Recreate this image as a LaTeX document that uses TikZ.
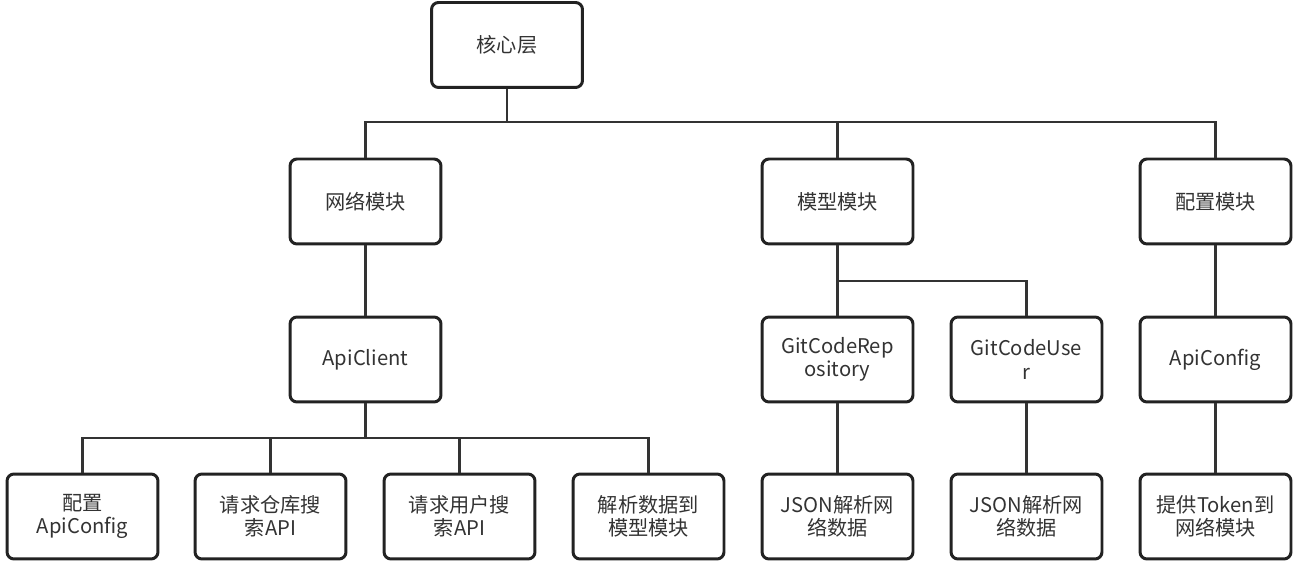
\documentclass[tikz,border=0pt]{standalone}
\usepackage{fontspec}
\setmainfont{Noto Sans CJK SC}
\usepackage{tikz}
\usetikzlibrary{positioning, calc}
\definecolor{boxline}{RGB}{34, 34, 34}
\definecolor{wire}{RGB}{51, 51, 51}

\begin{document}
\begin{tikzpicture}[x=0.02cm, y=-0.02cm,
  box/.style={draw=boxline, line width=1.7pt, fill=white, rounded corners=4pt, minimum width=3.02cm, minimum height=1.7cm, align=center, font=\fontsize{11.5pt}{13.2pt}\selectfont, text=black!80, inner sep=2pt},
  link/.style={draw=wire, line width=1.2pt}]
  \useasboundingbox (0,0) rectangle (1315,567);

  % Top
  \node[box] (core) at (507, 45) {核心层};

  % Modules
  \node[box] (net) at (365.5, 201.5) {网络模块};
  \node[box] (model) at (837.5, 201.5) {模型模块};
  \node[box] (cfg) at (1215.5, 201.5) {配置模块};

  % Classes
  \node[box] (client) at (365.5, 359.5) {ApiClient};
  \node[box] (repo) at (837.5, 359.5) {GitCodeRep\\ository};
  \node[box] (user) at (1026.5, 359.5) {GitCodeUse\\r};
  \node[box] (apicfg) at (1215.5, 359.5) {ApiConfig};

  % Leaves
  \node[box] (setcfg) at (82.5, 516.5) {配置\\ApiConfig};
  \node[box] (reqrepo) at (270.5, 516.5) {请求仓库搜\\索API};
  \node[box] (requser) at (459.5, 516.5) {请求用户搜\\索API};
  \node[box] (parse) at (648.5, 516.5) {解析数据到\\模型模块};
  \node[box] (jsonrepo) at (837.5, 516.5) {JSON解析网\\络数据};
  \node[box] (jsonuser) at (1026.5, 516.5) {JSON解析网\\络数据};
  \node[box] (token) at (1215.5, 516.5) {提供Token到\\网络模块};

  % Buses
  \coordinate (b1) at (507, 122);
  \coordinate (b2) at (837.5, 281);
  \coordinate (b3) at (365.5, 438);

  \draw[link] (core.south) -- (b1);
  \draw[link] (net.north) |- (b1) -| (cfg.north);
  \draw[link] (b1) -| (model.north);

  \draw[link] (net.south) -- (client.north);
  \draw[link] (model.south) -- (repo.north);
  \draw[link] (b2) -| (user.north);
  \draw[link] (cfg.south) -- (apicfg.north);

  \draw[link] (client.south) -- (b3);
  \draw[link] (setcfg.north) |- (b3) -| (parse.north);
  \draw[link] (b3 -| reqrepo.north) -- (reqrepo.north);
  \draw[link] (b3 -| requser.north) -- (requser.north);

  \draw[link] (repo.south) -- (jsonrepo.north);
  \draw[link] (user.south) -- (jsonuser.north);
  \draw[link] (apicfg.south) -- (token.north);
\end{tikzpicture}
\end{document}
